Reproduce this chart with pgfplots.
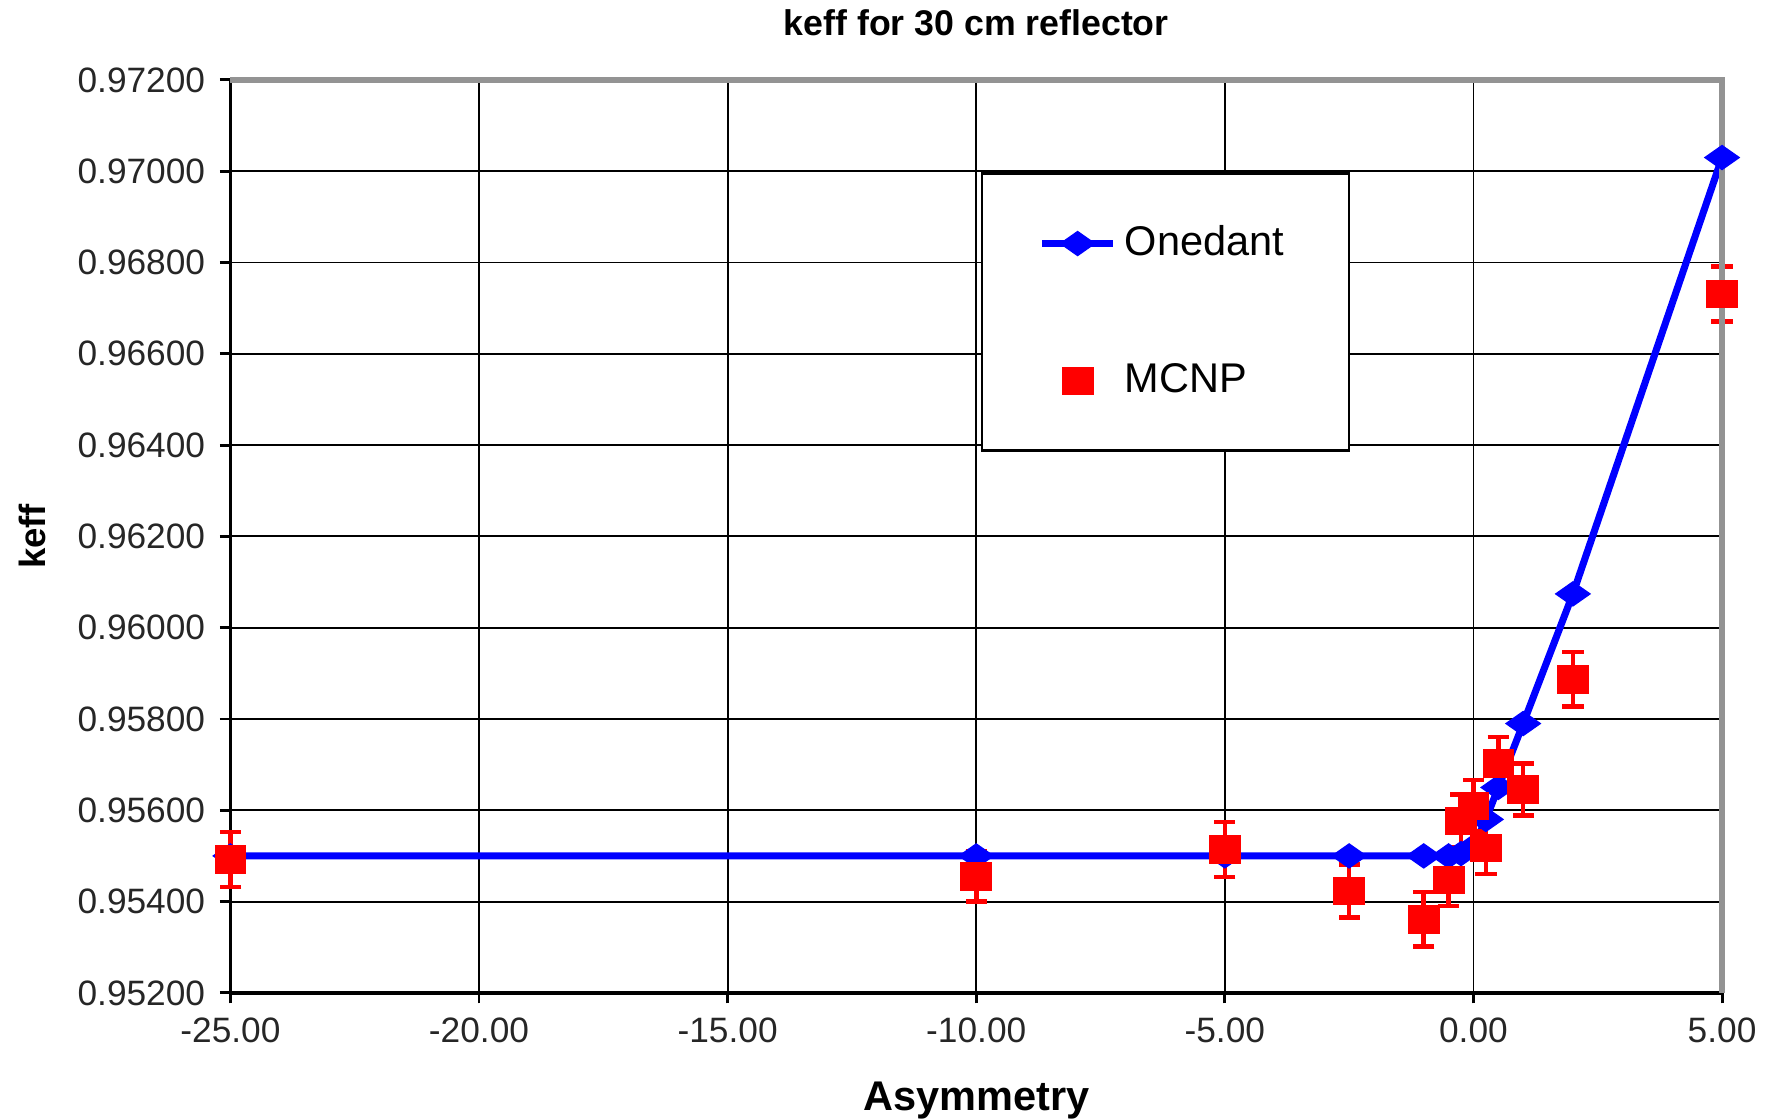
\documentclass[border=0pt]{standalone}
\usepackage{pgfplots}
\pgfplotsset{compat=1.18}
\usepackage{fontspec}
\setmainfont{Liberation Sans}

% Onedant calculation
\pgfplotstableread{
x      y
-25.00 0.95500
-10.00 0.95500
-5.00  0.95500
-2.50  0.95500
-1.00  0.95500
-0.50  0.95500
-0.25  0.95505
0.00   0.95520
0.25   0.95580
0.50   0.95650
1.00   0.95790
2.00   0.96074
5.00   0.97030
}\onedant

% MCNP results with 1-sigma errors
\pgfplotstableread{
x      y       e
-25.00 0.95492 0.00060
-10.00 0.95455 0.00055
-5.00  0.95514 0.00060
-2.50  0.95423 0.00058
-1.00  0.95361 0.00060
-0.50  0.95448 0.00058
-0.25  0.95577 0.00058
0.00   0.95610 0.00056
0.25   0.95518 0.00058
0.50   0.95703 0.00058
1.00   0.95646 0.00057
2.00   0.95887 0.00060
5.00   0.96731 0.00060
}\mcnp

\begin{document}
\begin{tikzpicture}
\begin{axis}[
    scale only axis,
    width=12.63cm, height=7.73cm,
    xmin=-25, xmax=5, ymin=0.952, ymax=0.972,
    xtick={-25,-20,-15,-10,-5,0,5},
    ytick={0.952,0.954,0.956,0.958,0.960,0.962,0.964,0.966,0.968,0.970,0.972},
    grid=major,
    major grid style={black, line width=0.45pt},
    axis line style={black, line width=0.9pt},
    tick pos=left, tick align=outside,
    major tick length=0.09cm,
    tick style={black, line width=0.7pt},
    /pgf/number format/assume math mode=true,
    xticklabel style={/pgf/number format/fixed, /pgf/number format/fixed zerofill,
        /pgf/number format/precision=2, font=\fontsize{8.5}{10}\selectfont, text=black!85},
    yticklabel style={/pgf/number format/fixed, /pgf/number format/fixed zerofill,
        /pgf/number format/precision=5, font=\fontsize{8.5}{10}\selectfont, text=black!85},
    scaled y ticks=false,
    xlabel={Asymmetry},
    xlabel style={font=\bfseries\fontsize{10}{12}\selectfont, at={(axis description cs:0.5,-0.1174)}, anchor=center},
    ylabel={keff},
    ylabel style={font=\bfseries\fontsize{8.8}{10}\selectfont, at={(axis description cs:-0.1327,0.5)}, anchor=center},
    legend style={at={(axis cs:-9.91,0.96998)}, anchor=north west,
        draw=black, line width=0.6pt, fill=white,
        inner xsep=0.48cm, inner ysep=0.37cm, row sep=0.72cm,
        font=\fontsize{10}{12}\selectfont},
    legend cell align=left,
    clip=false,
]
\addplot[blue, line width=1.7pt, mark=diamond*,
    mark options={solid, line width=0.3pt, xscale=1.9, mark size=2.9pt}]
    table[x=x, y=y] {\onedant};
\addlegendentry{Onedant}

\addplot[red, only marks, mark=square*,
    mark options={line width=0.2pt, mark size=3.3pt, xscale=1.12},
    error bars/.cd, y dir=both, y explicit,
    error bar style={red, line width=1.1pt},
    error mark options={rotate=90, red, mark size=0.09cm, line width=1.1pt}]
    table[x=x, y=y, y error=e] {\mcnp};
\addlegendentry{MCNP}

\draw[gray!85, line width=1.6pt] (rel axis cs:0,1) -- (rel axis cs:1,1) -- (rel axis cs:1,0);
\node[font=\bfseries\fontsize{8.6}{10}\selectfont, anchor=center]
    at (axis description cs:0.5,1.0629) {keff for 30 cm reflector};
\end{axis}
\pgfresetboundingbox
\path ([shift={(-1.951cm,-1.067cm)}]current axis.south west)
    rectangle ([shift={(0.423cm,0.677cm)}]current axis.north east);
\end{tikzpicture}
\end{document}
